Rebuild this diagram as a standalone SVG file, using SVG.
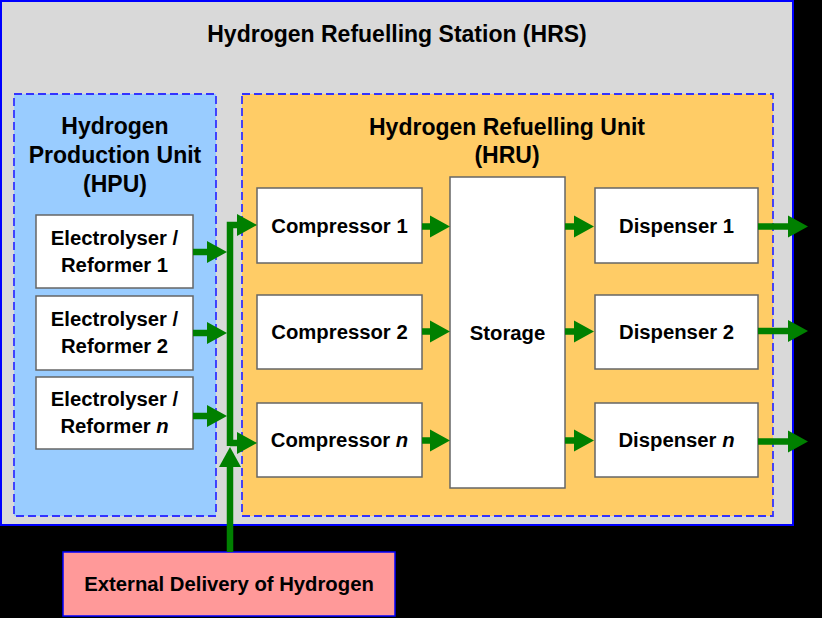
<svg xmlns="http://www.w3.org/2000/svg" width="822" height="618" viewBox="0 0 822 618">
<style>
.t{font-family:"Liberation Sans",Arial,sans-serif;font-weight:bold;fill:#000;text-anchor:middle}
.title{font-size:23px}
.lbl{font-size:20.3px}
.box{fill:#fff;stroke:#666;stroke-width:1.5}
.dash{stroke:#3333ff;stroke-width:1.8;stroke-dasharray:8 4}
.flow{fill:none;stroke:#008000;stroke-width:6.5;stroke-linejoin:miter;marker-end:url(#ah)}
</style>
<defs>
<marker id="ah" markerUnits="userSpaceOnUse" viewBox="0 -11 20 22" refX="0" refY="0" markerWidth="20" markerHeight="22" orient="auto" overflow="visible">
<path d="M0,-11 L20,0 L0,11 Z" fill="#008000"/>
</marker>
</defs>
<rect x="0" y="0" width="822" height="618" fill="#000"/>
<g id="hrs">
<rect x="1" y="1" width="792" height="524" fill="#d9d9d9" stroke="#0000ff" stroke-width="2"/>
<text class="t title" x="397" y="42">Hydrogen Refuelling Station (HRS)</text>
</g>
<g id="hpu">
<rect class="dash" x="14" y="94" width="202" height="422" fill="#99ccff"/>
<text class="t title" x="115" y="134">Hydrogen</text>
<text class="t title" x="115" y="163">Production Unit</text>
<text class="t title" x="115" y="192">(HPU)</text>
</g>
<g id="hru">
<rect class="dash" x="242" y="94" width="531" height="422" fill="#ffcc66"/>
<text class="t title" x="507" y="135">Hydrogen Refuelling Unit</text>
<text class="t title" x="507" y="163">(HRU)</text>
</g>
<g id="electrolyser1">
<rect class="box" x="36" y="215" width="157" height="73"/>
<text class="t lbl" x="114.5" y="245">Electrolyser /</text>
<text class="t lbl" x="114.5" y="272">Reformer 1</text>
</g>
<g id="electrolyser2">
<rect class="box" x="36" y="296" width="157" height="74"/>
<text class="t lbl" x="114.5" y="326">Electrolyser /</text>
<text class="t lbl" x="114.5" y="353">Reformer 2</text>
</g>
<g id="electrolysern">
<rect class="box" x="36" y="377" width="157" height="72"/>
<text class="t lbl" x="114.5" y="406">Electrolyser /</text>
<text class="t lbl" x="114.5" y="433">Reformer <tspan font-style="italic">n</tspan></text>
</g>
<g id="compressor1">
<rect class="box" x="257" y="188" width="165" height="75"/>
<text class="t lbl" x="339.5" y="233">Compressor 1</text>
</g>
<g id="compressor2">
<rect class="box" x="257" y="295" width="165" height="74"/>
<text class="t lbl" x="339.5" y="339">Compressor 2</text>
</g>
<g id="compressorn">
<rect class="box" x="257" y="403" width="165" height="74"/>
<text class="t lbl" x="339.5" y="447">Compressor <tspan font-style="italic">n</tspan></text>
</g>
<g id="storage">
<rect class="box" x="450" y="177" width="115" height="311"/>
<text class="t lbl" x="507.5" y="340">Storage</text>
</g>
<g id="dispenser1">
<rect class="box" x="595" y="188" width="163" height="75"/>
<text class="t lbl" x="676.5" y="233">Dispenser 1</text>
</g>
<g id="dispenser2">
<rect class="box" x="595" y="295" width="163" height="74"/>
<text class="t lbl" x="676.5" y="339">Dispenser 2</text>
</g>
<g id="dispensern">
<rect class="box" x="595" y="403" width="163" height="74"/>
<text class="t lbl" x="676.5" y="447">Dispenser <tspan font-style="italic">n</tspan></text>
</g>
<g id="external">
<rect x="63" y="552" width="332" height="64" fill="#ff9999" stroke="#0000ff" stroke-width="1.5"/>
<text class="t lbl" x="229" y="591">External Delivery of Hydrogen</text>
</g>
<g id="connectors">
<path class="flow" d="M193,252 H207"/>
<path class="flow" d="M193,333 H207"/>
<path class="flow" d="M193,416 H207"/>
<path class="flow" d="M230,446 V225 H237"/>
<path class="flow" d="M230,443 H237"/>
<path class="flow" d="M230,552 V467"/>
<path class="flow" d="M422,226.5 H430"/>
<path class="flow" d="M422,331.5 H430"/>
<path class="flow" d="M422,440.5 H430"/>
<path class="flow" d="M565,226.5 H574"/>
<path class="flow" d="M565,331.5 H574"/>
<path class="flow" d="M565,440.5 H574"/>
<path class="flow" d="M758,226.5 H788"/>
<path class="flow" d="M758,331 H788"/>
<path class="flow" d="M758,441.5 H788"/>
</g>
</svg>
